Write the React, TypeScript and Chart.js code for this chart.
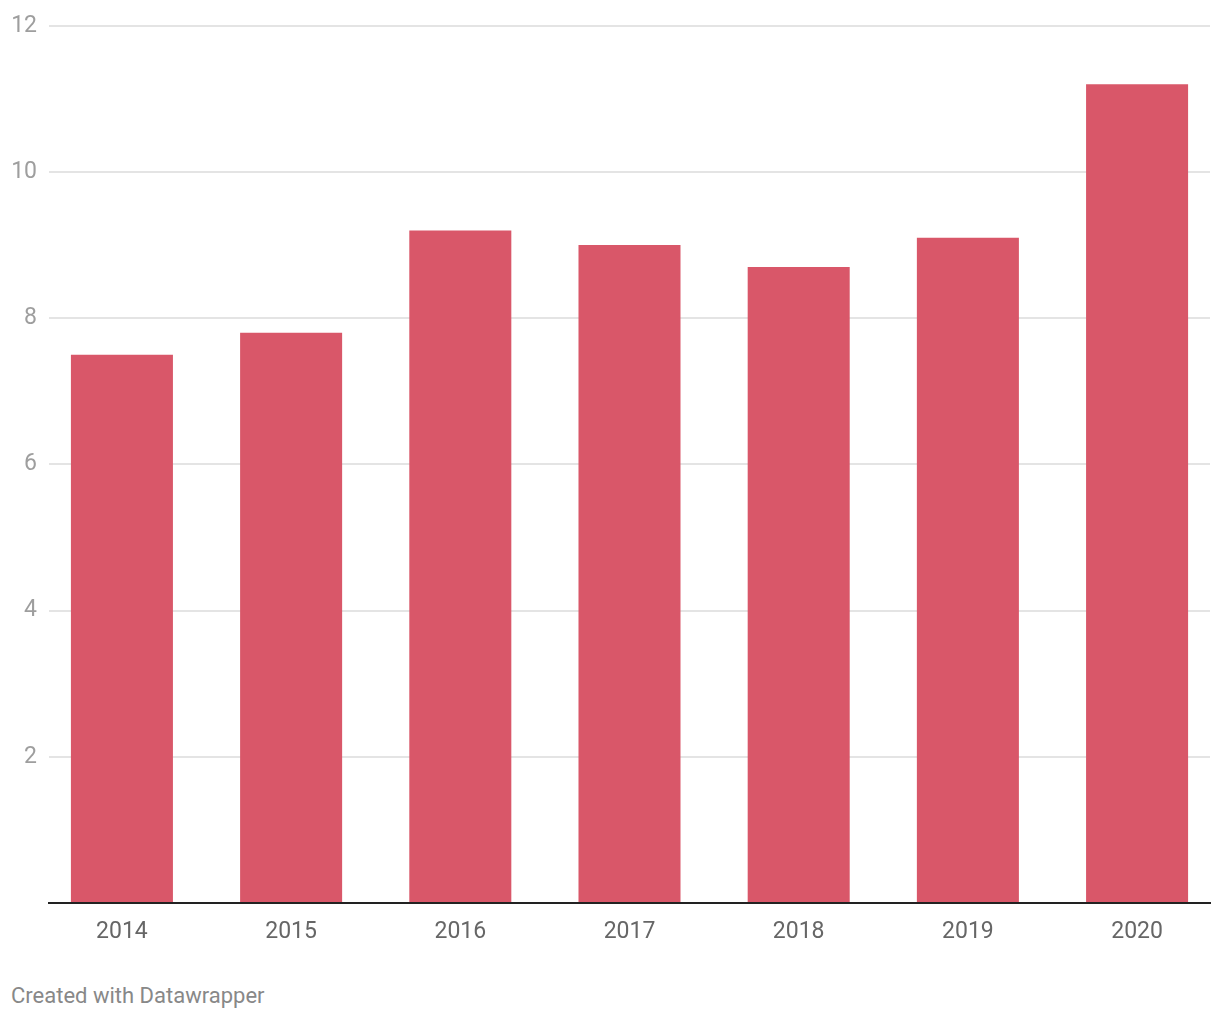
import React, { useEffect, useRef } from "react";
import { Chart, registerables } from "chart.js";

Chart.register(...registerables);

const years = ["2014", "2015", "2016", "2017", "2018", "2019", "2020"];
const values = [7.5, 7.8, 9.2, 9.0, 8.7, 9.1, 11.2];
const yTicks = [0, 2, 4, 6, 8, 10, 12];

const BAR_COLOR = "#d95769";
const FONT = "Roboto, 'Noto Sans', sans-serif";

export default function App() {
  const ref = useRef<HTMLCanvasElement | null>(null);

  useEffect(() => {
    if (!ref.current) return;
    const chart = new Chart(ref.current, {
      type: "bar",
      data: {
        datasets: [
          {
            data: years.map((_, i) => ({ x: i, y: values[i] })),
            backgroundColor: BAR_COLOR,
            borderWidth: 0,
            categoryPercentage: 1,
            barPercentage: 0.603,
          },
        ],
      },
      options: {
        responsive: false,
        animation: false,
        layout: { padding: { left: 11, right: 10, top: 24, bottom: 0 } },
        plugins: { legend: { display: false }, tooltip: { enabled: false } },
        scales: {
          x: {
            type: "linear",
            offset: false,
            min: -0.431,
            max: years.length - 1 + 0.431,
            grid: { display: false, drawTicks: false, offset: false },
            border: { display: true, color: "#222222", width: 2 },
            afterBuildTicks: (scale: any) => {
              scale.ticks = years.map((_, i) => ({ value: i }));
            },
            afterFit: (scale: any) => {
              scale.height = 57;
            },
            ticks: {
              padding: 15,
              color: "#666666",
              font: { family: FONT, size: 23 },
              maxRotation: 0,
              autoSkip: false,
              callback: (v: any) => years[v] ?? "",
            },
          },
          y: {
            min: 0,
            max: 12,
            afterBuildTicks: (scale: any) => {
              scale.ticks = yTicks.map((v) => ({ value: v }));
            },
            afterFit: (scale: any) => {
              scale.width = 38;
            },
            grid: { color: "#e4e4e4", lineWidth: 2, drawTicks: false },
            border: { display: false },
            ticks: {
              padding: 12,
              color: "#9e9e9e",
              font: { family: FONT, size: 23 },
              callback: (v: any) => (v === 0 ? "" : String(v)),
            },
          },
        },
      },
    });
    return () => chart.destroy();
  }, []);

  return (
    <div style={{ position: "fixed", left: 0, top: 0, width: 1220, height: 1020, background: "#fff" }}>
      <canvas ref={ref} width={1220} height={960} style={{ display: "block" }} />
      <div
        style={{
          position: "absolute",
          left: 11,
          top: 984,
          fontFamily: FONT,
          fontSize: 22,
          color: "#888888",
          lineHeight: "24px",
          whiteSpace: "nowrap",
        }}
      >
        Created with Datawrapper
      </div>
    </div>
  );
}
